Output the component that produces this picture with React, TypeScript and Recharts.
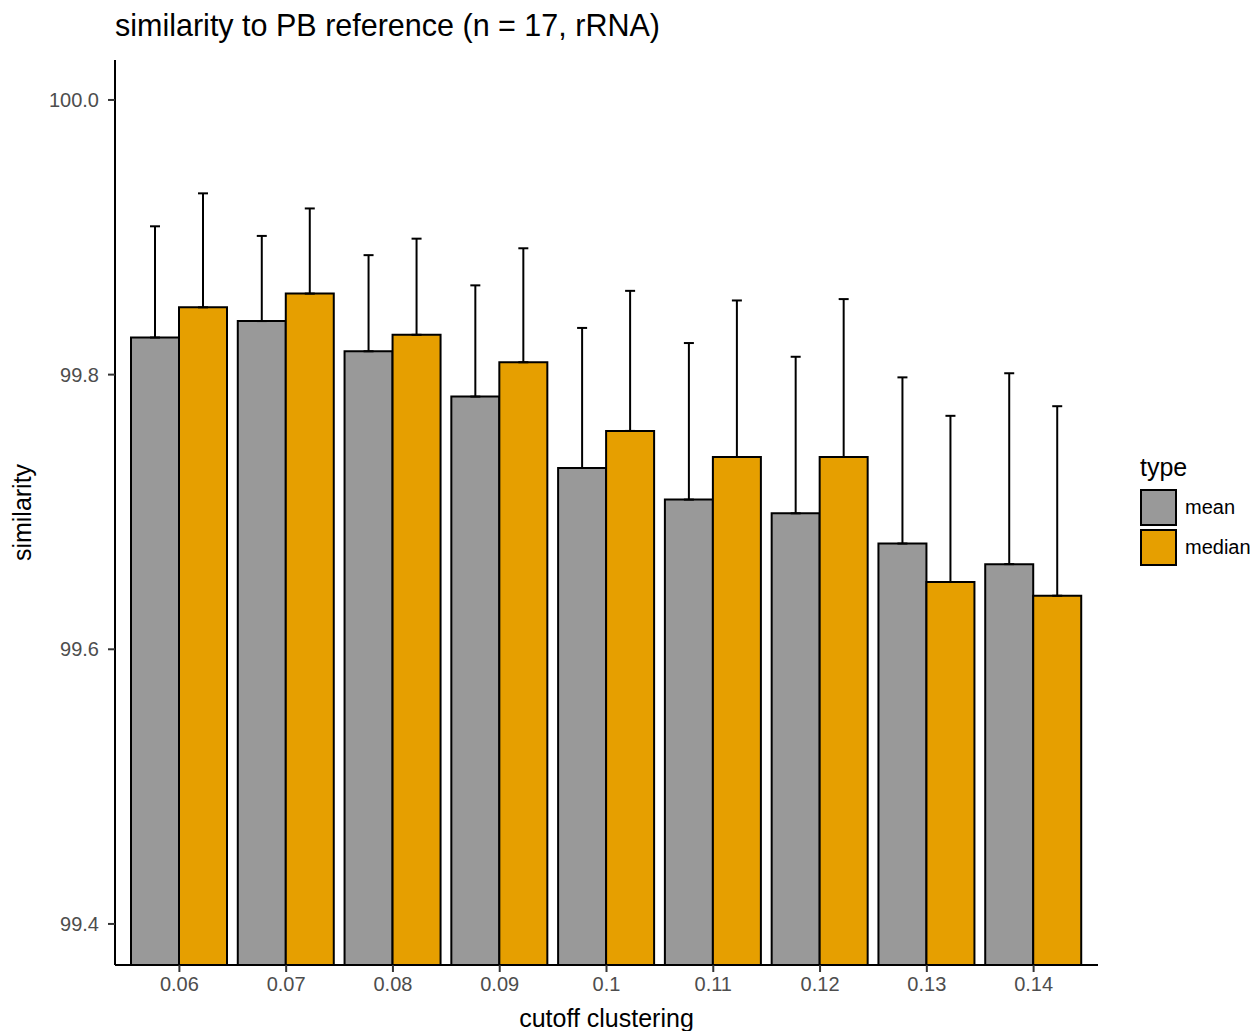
import React from "react";
import { BarChart, Bar, XAxis, YAxis, ErrorBar } from "recharts";

// cutoff values on the x axis
const cutoffs = ["0.06", "0.07", "0.08", "0.09", "0.1", "0.11", "0.12", "0.13", "0.14"];

// bar heights
const meanValues = [99.827, 99.839, 99.817, 99.784, 99.732, 99.709, 99.699, 99.677, 99.662];
const medianValues = [99.849, 99.859, 99.829, 99.809, 99.759, 99.74, 99.74, 99.649, 99.639];

// upper whisker length (sd)
const meanSd = [0.081, 0.062, 0.07, 0.081, 0.102, 0.114, 0.114, 0.121, 0.139];
const medianSd = [0.083, 0.062, 0.07, 0.083, 0.102, 0.114, 0.115, 0.121, 0.138];

const yTicks = [99.4, 99.6, 99.8, 100.0];

const seriesNames = ["mean", "median"];
const seriesColors = ["#999999", "#E69F00"];

const data = cutoffs.map((c, i) => ({
  cutoff: c,
  mean: meanValues[i],
  median: medianValues[i],
  // only the upper half is visible in the original (lower half is behind the bar)
  meanErr: [0, meanSd[i]],
  medianErr: [0, medianSd[i]],
}));

const FONT = "'Liberation Sans', Arial, Helvetica, sans-serif";
const TICK_COLOR = "#4D4D4D";

const YTitle = ({ viewBox }: any) => {
  const cx = 22;
  const cy = viewBox.y + viewBox.height / 2;
  return (
    <text
      x={cx}
      y={cy}
      transform={`rotate(-90 ${cx} ${cy})`}
      textAnchor="middle"
      dominantBaseline="central"
      fontSize={25}
      fontFamily={FONT}
      fill="#000"
    >
      similarity
    </text>
  );
};

const TypeLegend = () => (
  <div
    style={{
      position: "absolute",
      left: 1140,
      top: 455,
      fontFamily: FONT,
      color: "#000",
    }}
  >
    <div style={{ fontSize: 25, lineHeight: "25px", marginBottom: 9 }}>type</div>
    {seriesNames.map((name, i) => (
      <div
        key={name}
        style={{ display: "flex", alignItems: "center", height: 37, marginBottom: 3 }}
      >
        <div
          style={{
            width: 37,
            height: 37,
            boxSizing: "border-box",
            background: seriesColors[i],
            border: "2px solid #000",
          }}
        />
        <span style={{ fontSize: 20, marginLeft: 8 }}>{name}</span>
      </div>
    ))}
  </div>
);

export default function App() {
  return (
    <div
      style={{
        position: "absolute",
        left: 0,
        top: 0,
        width: 1260,
        height: 1031,
        background: "#fff",
        fontFamily: FONT,
      }}
    >
      <div
        style={{
          position: "absolute",
          left: 115,
          top: 10,
          fontSize: 30.5,
          lineHeight: "30px",
          color: "#000",
          whiteSpace: "nowrap",
        }}
      >
        similarity to PB reference (n = 17, rRNA)
      </div>
      <BarChart
        width={1260}
        height={1031}
        data={data}
        margin={{ top: 60, right: 162, bottom: 0, left: 0 }}
        barGap={0}
        barSize={48}
      >
        <XAxis
          dataKey="cutoff"
          height={66}
          padding={{ left: 11, right: 11 }}
          tickSize={7}
          tickMargin={5}
          tick={{ fill: TICK_COLOR, fontSize: 20, fontFamily: FONT }}
          axisLine={{ stroke: "#000", strokeWidth: 2 }}
          tickLine={{ stroke: "#333", strokeWidth: 2 }}
          label={{
            value: "cutoff clustering",
            position: "insideBottom",
            offset: 4,
            fontSize: 25,
            fontFamily: FONT,
            fill: "#000",
          }}
        />
        <YAxis
          width={115}
          type="number"
          domain={[99.3701, 100.0291]}
          allowDataOverflow
          ticks={yTicks}
          tickFormatter={(v: number) => v.toFixed(1)}
          tickSize={7}
          tickMargin={9}
          tick={{ fill: TICK_COLOR, fontSize: 20, fontFamily: FONT }}
          axisLine={{ stroke: "#000", strokeWidth: 2 }}
          tickLine={{ stroke: "#333", strokeWidth: 2 }}
          label={<YTitle />}
        />
        <Bar
          dataKey="mean"
          name="mean"
          fill={seriesColors[0]}
          stroke="#000"
          strokeWidth={2}
          isAnimationActive={false}
        >
          <ErrorBar dataKey="meanErr" width={5} stroke="#000" strokeWidth={2} />
        </Bar>
        <Bar
          dataKey="median"
          name="median"
          fill={seriesColors[1]}
          stroke="#000"
          strokeWidth={2}
          isAnimationActive={false}
        >
          <ErrorBar dataKey="medianErr" width={5} stroke="#000" strokeWidth={2} />
        </Bar>
      </BarChart>
      <TypeLegend />
    </div>
  );
}
